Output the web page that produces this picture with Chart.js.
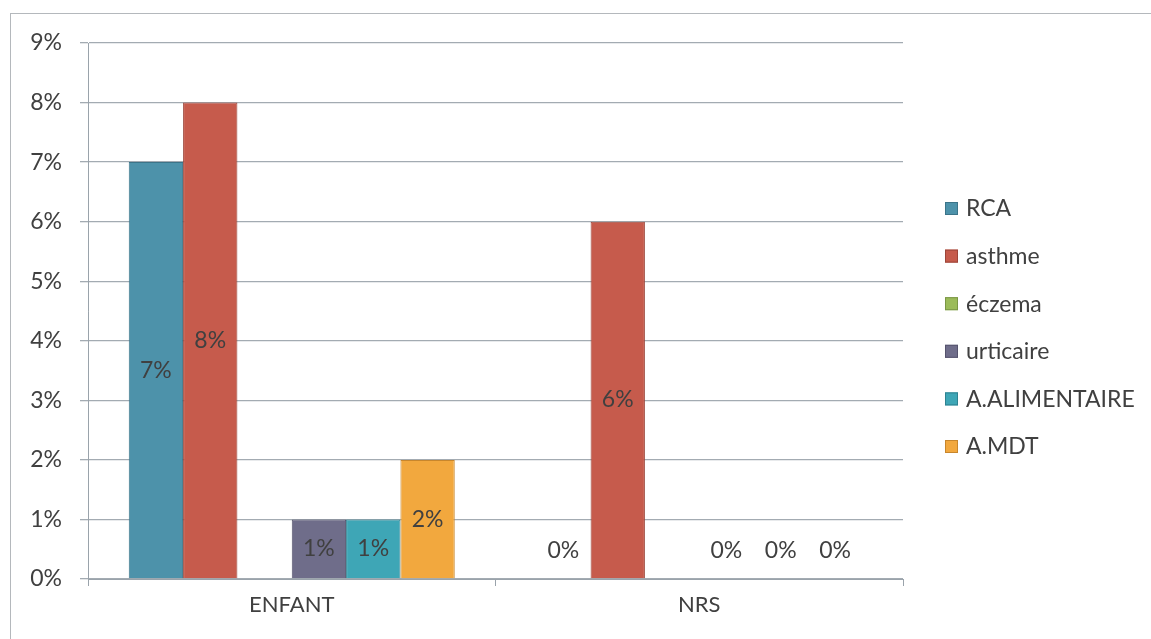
<!DOCTYPE html>
<html>
<head>
<meta charset="utf-8">
<script src="https://cdn.jsdelivr.net/npm/chart.js@4/dist/chart.umd.min.js"></script>
<style>
  html, body { margin: 0; padding: 0; background: #fff; overflow: hidden; }
  #frame { position: absolute; left: 10px; top: 13px; width: 1300px; height: 800px; border: 1px solid #b4b8bc; }
  #wrap { position: absolute; left: 0; top: 0; width: 1151px; height: 639px; }
</style>
</head>
<body>
<div id="frame"></div>
<div id="wrap"><canvas id="chart" width="1151" height="639"></canvas></div>
<script>
"use strict";

const categories = ["ENFANT", "NRS"];
const seriesNames = ["RCA", "asthme", "éczema", "urticaire", "A.ALIMENTAIRE", "A.MDT"];
const rcaValues = [7, 0];
const asthmeValues = [8, 6];
const eczemaValues = [null, null];
const urticaireValues = [1, 0];
const alimentaireValues = [1, 0];
const mdtValues = [2, 0];
const yTicks = [0, 1, 2, 3, 4, 5, 6, 7, 8, 9];

const seriesColors = ["#4d92aa", "#c65b4c", "#9bbb59", "#6f6d8a", "#3ea6b6", "#f2a83e"];
const borderColors = ["#3b7489", "#9c4539", "#7a9645", "#55536d", "#2e8190", "#c8862c"];
const allValues = [rcaValues, asthmeValues, eczemaValues, urticaireValues, alimentaireValues, mdtValues];

const textColor = "#404040";
const fontFamily = "Lato, 'Open Sans', sans-serif";

// values written in the middle of each bar, like Excel's centered data labels
const barLabels = {
  id: "barLabels",
  afterDatasetsDraw(chart) {
    const ctx = chart.ctx;
    const yScale = chart.scales.y;
    ctx.save();
    ctx.font = "23px " + fontFamily;
    ctx.fillStyle = textColor;
    ctx.textAlign = "center";
    ctx.textBaseline = "middle";
    chart.data.datasets.forEach((ds, i) => {
      const meta = chart.getDatasetMeta(i);
      meta.data.forEach((bar, j) => {
        const v = ds.data[j];
        if (v === null || v === undefined) return;
        let y = (bar.y + bar.base) / 2;
        if (v === 0) y = yScale.getPixelForValue(0.47);
        ctx.fillText(v + "%", bar.x, y);
      });
    });
    ctx.restore();
  }
};

// legend on the right, squares + names
const sideLegend = {
  id: "sideLegend",
  afterDraw(chart) {
    const ctx = chart.ctx;
    const x0 = 945;
    let y = 208;
    ctx.save();
    ctx.font = "23px " + fontFamily;
    ctx.textBaseline = "middle";
    ctx.textAlign = "left";
    chart.data.datasets.forEach((ds) => {
      ctx.fillStyle = ds.backgroundColor;
      ctx.fillRect(x0, y - 6, 13, 13);
      ctx.strokeStyle = ds.borderColor;
      ctx.lineWidth = 1;
      ctx.strokeRect(x0 + 0.5, y - 5.5, 12, 12);
      ctx.fillStyle = textColor;
      ctx.fillText(ds.label, x0 + 21, y + 1);
      y += 47.6;
    });
    ctx.restore();
  }
};

const datasets = seriesNames.map((name, i) => ({
  label: name,
  data: allValues[i],
  backgroundColor: seriesColors[i],
  borderColor: borderColors[i],
  borderWidth: 1,
  categoryPercentage: 0.8,
  barPercentage: 1.0
}));

new Chart(document.getElementById("chart"), {
  type: "bar",
  data: { labels: categories, datasets: datasets },
  plugins: [barLabels, sideLegend],
  options: {
    responsive: false,
    animation: false,
    layout: { padding: { top: 43, right: 248, bottom: 0, left: 0 } },
    plugins: {
      legend: { display: false },
      tooltip: { enabled: false }
    },
    scales: {
      x: {
        afterFit(scale) { scale.height = 60; },
        grid: {
          offset: true,
          drawOnChartArea: false,
          drawTicks: true,
          tickLength: 7,
          color: "#9aa3ab"
        },
        border: { color: "#9aa3ab", width: 1 },
        ticks: { color: textColor, font: { family: fontFamily, size: 22 }, padding: 6 }
      },
      y: {
        min: 0,
        max: 9,
        afterFit(scale) { scale.width = 88; },
        afterBuildTicks(scale) { scale.ticks = yTicks.map(v => ({ value: v })); },
        grid: { color: "#a3abb2", lineWidth: 1.3, tickLength: 8 },
        border: { color: "#9aa3ab", width: 1 },
        ticks: {
          color: textColor,
          font: { family: fontFamily, size: 23 },
          padding: 18,
          callback: v => v + "%"
        }
      }
    }
  }
});
</script>
</body>
</html>
